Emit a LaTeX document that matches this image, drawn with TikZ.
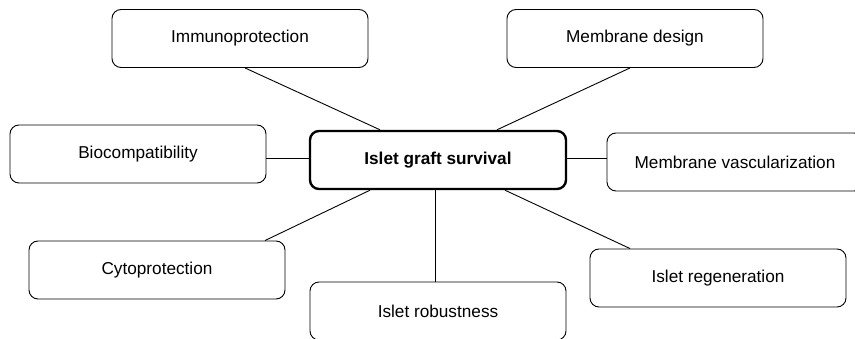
\documentclass[tikz,border=0pt]{standalone}
\usepackage{fontspec}
\setmainfont{Liberation Sans}
\usepackage{tikz}
\usetikzlibrary{positioning, calc}

\begin{document}
\begin{tikzpicture}[
    x=1pt, y=-1pt,
    factor/.style={rectangle, rounded corners=9pt, draw, line width=0.9pt, minimum width=256pt, minimum height=58pt, font=\fontsize{17.2}{20}\selectfont},
    hub/.style={factor, line width=2.4pt, font=\fontsize{17.2}{20}\selectfont\bfseries},
    link/.style={line width=0.9pt}
]
    \clip (0,0) rectangle (855,339);

    % centre
    \node[hub] (survival) at (438, 160) {Islet graft survival};

    % upper row
    \node[factor] (immuno) at (240, 38.5) {Immunoprotection};
    \node[factor] (design) at (635, 38.5) {Membrane design};

    % middle row
    \node[factor] (biocomp) at (138, 154) {Biocompatibility};
    \node[factor] (vascular) at (735, 162) {Membrane vascularization};

    % lower row
    \node[factor] (cyto) at (157, 270) {Cytoprotection};
    \node[factor] (robust) at (438, 311) {Islet robustness};
    \node[factor] (regen) at (718, 278) {Islet regeneration};

    % connectors
    \draw[link] ([xshift=5pt]immuno.south) -- ([xshift=-58pt]survival.north);
    \draw[link] ([xshift=-5pt]design.south) -- ([xshift=59pt]survival.north);
    \draw[link] ([yshift=2pt]survival.west) -- ([yshift=2pt]survival.west -| biocomp.east);
    \draw[link] ([yshift=2pt]survival.east) -- ([yshift=2pt]survival.east -| vascular.west);
    \draw[link] ([xshift=108pt]cyto.north) -- ([xshift=-68pt]survival.south);
    \draw[link] ([xshift=-3pt]survival.south) -- ([xshift=-3pt]robust.north);
    \draw[link] ([xshift=67pt]survival.south) -- ([xshift=-88pt]regen.north);
\end{tikzpicture}
\end{document}
